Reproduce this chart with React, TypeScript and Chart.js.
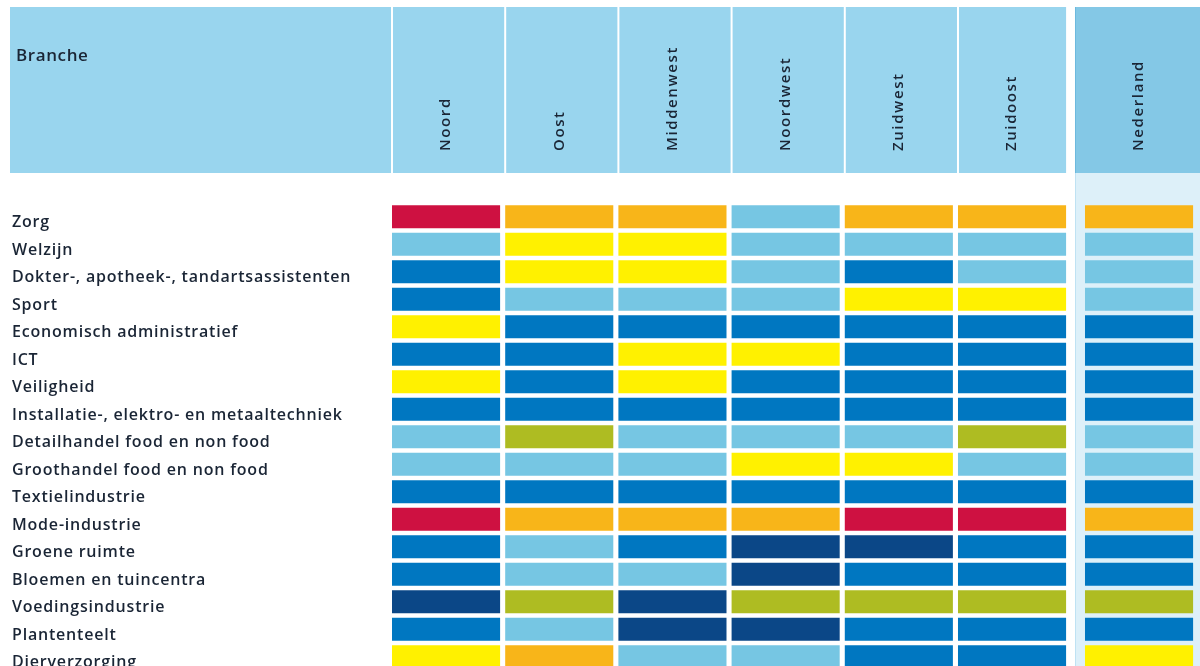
import React, { useEffect, useRef } from "react";
import { Chart, registerables } from "chart.js";

Chart.register(...registerables);

const branches = [
  "Zorg",
  "Welzijn",
  "Dokter-, apotheek-, tandartsassistenten",
  "Sport",
  "Economisch administratief",
  "ICT",
  "Veiligheid",
  "Installatie-, elektro- en metaaltechniek",
  "Detailhandel food en non food",
  "Groothandel food en non food",
  "Textielindustrie",
  "Mode-industrie",
  "Groene ruimte",
  "Bloemen en tuincentra",
  "Voedingsindustrie",
  "Plantenteelt",
  "Dierverzorging",
];

const regions = ["Noord", "Oost", "Middenwest", "Noordwest", "Zuidwest", "Zuidoost", "Nederland"];

// colour class per branche (R red, O orange, Y yellow, L light blue, B blue, D dark blue, G olive)
const noord = ["R", "L", "B", "B", "Y", "B", "Y", "B", "L", "L", "B", "R", "B", "B", "D", "B", "Y"];
const oost = ["O", "Y", "Y", "L", "B", "B", "B", "B", "G", "L", "B", "O", "L", "L", "G", "L", "O"];
const middenwest = ["O", "Y", "Y", "L", "B", "Y", "Y", "B", "L", "L", "B", "O", "B", "L", "D", "D", "L"];
const noordwest = ["L", "L", "L", "L", "B", "Y", "B", "B", "L", "Y", "B", "O", "D", "D", "G", "D", "L"];
const zuidwest = ["O", "L", "B", "Y", "B", "B", "B", "B", "L", "Y", "B", "R", "D", "B", "G", "B", "B"];
const zuidoost = ["O", "L", "L", "Y", "B", "B", "B", "B", "G", "L", "B", "R", "B", "B", "G", "B", "B"];
const nederland = ["O", "L", "L", "L", "B", "B", "B", "B", "L", "L", "B", "O", "B", "B", "G", "B", "Y"];

const regionValues = [noord, oost, middenwest, noordwest, zuidwest, zuidoost, nederland];

const palette: Record<string, string> = {
  R: "#CE1141",
  O: "#F8B519",
  Y: "#FFF100",
  L: "#76C6E3",
  B: "#0077C1",
  D: "#0B4787",
  G: "#AEBC22",
};

const CELL_W = 0.955;
const ND_GAP = 0.122;
const X_MAX = 7.138;
const colStart = (i: number) => i + (i === regions.length - 1 ? ND_GAP : 0);

const FONT = "'Open Sans', 'DejaVu Sans', sans-serif";
const TEXT = "#1A2535";

const headerPlugin = {
  id: "headerPlugin",
  beforeDraw(chart: any) {
    const ctx = chart.ctx as CanvasRenderingContext2D;
    const x = chart.scales.x;
    const top = 7;
    const bottom = 173;
    const W = chart.width;
    const H = chart.height;
    const px = (v: number) => x.getPixelForValue(v);
    ctx.save();
    // Nederland band
    const ndLeft = px(colStart(6)) - 10;
    ctx.fillStyle = "#DDF0F9";
    ctx.fillRect(ndLeft, bottom, W - ndLeft, H - bottom);
    ctx.fillStyle = "#BFE2F3";
    ctx.fillRect(ndLeft, bottom, 1, H - bottom);
    // header cells
    ctx.fillStyle = "#99D5EE";
    ctx.fillRect(10, top, px(0) - 1 - 10, bottom - top);
    for (let i = 0; i < 6; i++) {
      const l = px(i) + 1;
      const r = i < 5 ? px(i + 1) - 1 : px(i + CELL_W);
      ctx.fillRect(l, top, r - l, bottom - top);
    }
    ctx.fillStyle = "#84C8E6";
    ctx.fillRect(ndLeft, top, W - ndLeft, bottom - top);
    ctx.fillStyle = "#6DB9DE";
    ctx.fillRect(ndLeft, top, 1, bottom - top);
    // texts
    ctx.fillStyle = TEXT;
    ctx.font = `600 17px ${FONT}`;
    ctx.textBaseline = "middle";
    ctx.textAlign = "left";
    (ctx as any).letterSpacing = "0.6px";
    ctx.fillText("Branche", 16, 56);
    ctx.font = `600 15px ${FONT}`;
    (ctx as any).letterSpacing = "1.6px";
    regions.forEach((name, i) => {
      const cx = px(colStart(i) + CELL_W / 2);
      ctx.save();
      ctx.translate(cx, 151);
      ctx.rotate(-Math.PI / 2);
      ctx.fillText(name, 0, 0);
      ctx.restore();
    });
    ctx.restore();
    // letter spacing used for the row labels drawn by the y axis
    (ctx as any).letterSpacing = "0.8px";
  },
  afterDraw(chart: any) {
    (chart.ctx as any).letterSpacing = "0px";
  },
};

export default function App() {
  const ref = useRef<HTMLCanvasElement>(null);
  useEffect(() => {
    if (!ref.current) return;
    const chart = new Chart(ref.current, {
      type: "bar",
      data: {
        labels: branches,
        datasets: regionValues.map((vals, i) => ({
          label: regions[i],
          data: vals.map(() => [colStart(i), colStart(i) + CELL_W]) as any,
          backgroundColor: vals.map((k) => palette[k]),
          borderWidth: 0,
          grouped: false,
          barPercentage: 0.836,
          categoryPercentage: 1,
        })),
      },
      options: {
        indexAxis: "y",
        responsive: false,
        animation: false,
        layout: { padding: { top: 203, left: 12, right: 0, bottom: 9 } },
        plugins: { legend: { display: false }, tooltip: { enabled: false } },
        scales: {
          x: { type: "linear", display: false, min: 0, max: X_MAX },
          y: {
            type: "category",
            grid: { display: false },
            border: { display: false },
            afterFit: (s: any) => {
              s.width = 380;
            },
            ticks: {
              autoSkip: false,
              crossAlign: "far",
              padding: 0,
              labelOffset: 6,
              color: TEXT,
              font: { family: FONT, size: 16, weight: 600 },
            },
          },
        },
      },
      plugins: [headerPlugin],
    });
    return () => chart.destroy();
  }, []);
  return (
    <div style={{ position: "fixed", left: 0, top: 0, width: 1200, height: 666, overflow: "hidden", background: "#fff" }}>
      <canvas ref={ref} width={1200} height={680} style={{ display: "block", width: 1200, height: 680 }} />
    </div>
  );
}
